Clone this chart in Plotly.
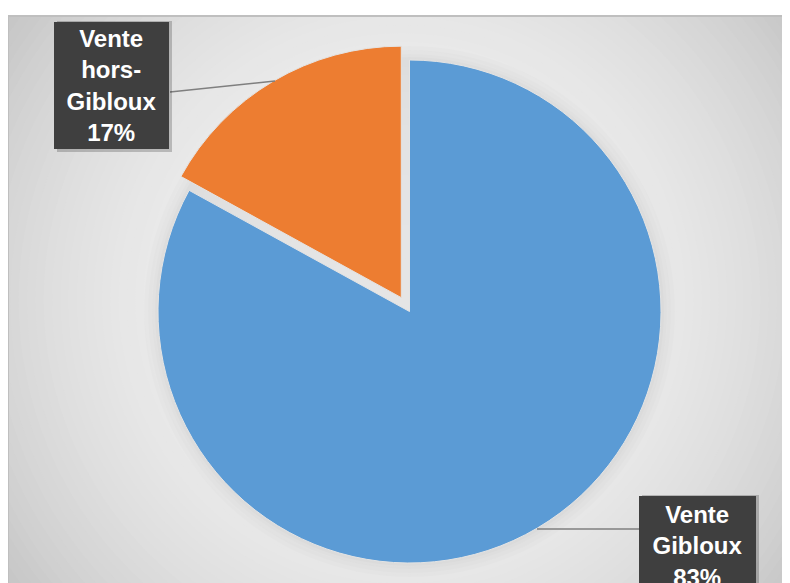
import plotly.graph_objects as go

# ---- data ----
labels = ["Vente Gibloux", "Vente hors-Gibloux"]
values = [83, 17]
colors = ["#5B9BD5", "#ED7D31"]

# screen-pixel geometry (page body has an 8px margin)
OFF = 8
W, H = 790, 583
FX0, FY0 = 8, 16            # frame top-left on screen
PW, PH = W, H - (FY0 - OFF)  # plot area size

def px(sx):
    return (sx - FX0) / PW

def py(sy):
    return 1 - (sy - FY0) / PH

fig = go.Figure()

shapes = []
# background radial gradient (concentric circles, clipped to plot area)
gcx, gcy = 402, 300
N = 60
for i in range(N):
    rad = 500 * (1 - i / N)
    t = min(rad / 478.0, 1.05) ** 2.5
    g = round(0xF2 - 42 * t)
    col = f"rgb({g},{g},{g})"
    shapes.append(dict(type="circle", xref="x", yref="y", layer="below",
                       x0=gcx - rad, x1=gcx + rad, y0=gcy - rad, y1=gcy + rad,
                       fillcolor=col, line=dict(width=0)))

# pie geometry
pcx, pcy, r = 409.5, 311.5, 251.5
pull = [0, 0.064]
half = r * (1 + max(pull))

# soft halo around pie (below the pie)
for k, a in [(14, 0.012), (10, 0.012), (6, 0.013), (3, 0.014)]:
    shapes.append(dict(type="circle", xref="x", yref="y", layer="below",
                       x0=pcx - r - k, x1=pcx + r + k, y0=pcy - r - k, y1=pcy + r + k,
                       fillcolor=f"rgba(0,0,0,{a})", line=dict(width=0)))

fig.add_trace(go.Pie(
    labels=labels, values=values, sort=False, direction="clockwise", rotation=0,
    pull=pull, textinfo="none", hoverinfo="label+percent",
    marker=dict(colors=colors, line=dict(color="#e4e4e4", width=1)),
    domain=dict(x=[px(pcx - half), px(pcx + half)],
                y=[py(pcy + half), py(pcy - half)]),
    showlegend=False))

# frame
shapes.append(dict(type="rect", xref="paper", yref="paper", layer="above",
                   x0=0, x1=1.05, y0=-0.05, y1=1, line=dict(color="#bfbfbf", width=2)))
# leader lines
shapes.append(dict(type="line", xref="x", yref="y", layer="above",
                   x0=170, y0=92, x1=275, y1=81, line=dict(color="#7f7f7f", width=1.5)))
shapes.append(dict(type="line", xref="x", yref="y", layer="above",
                   x0=537, y0=529, x1=639, y1=529, line=dict(color="#7f7f7f", width=1.5)))

# label boxes
pct = [round(v * 100 / sum(values)) for v in values]
texts = [f"{lab.replace(' ', '<br>').replace('-', '-<br>')}<br>{p}%" for lab, p in zip(labels, pct)]
boxes = [(639, 492, 117, 104), (54, 18, 115, 131)]  # per slice: left, top, w, h (screen px)
annotations = []
for t, (bx, by, bw, bh) in zip(texts, boxes):
    shapes.append(dict(type="rect", xref="x", yref="y", layer="above",
                       x0=bx + 3, x1=bx + bw + 3, y0=by + 3, y1=by + bh + 3,
                       fillcolor="rgba(0,0,0,0.2)", line=dict(width=0)))
    annotations.append(dict(
        xref="x", yref="y", x=bx + bw / 2, y=by + bh / 2 + 2, xanchor="center", yanchor="middle",
        text=f"<b>{t}</b>", showarrow=False, width=bw, height=bh - 4, borderpad=0,
        bgcolor="#3f3f3f", borderwidth=0, align="center", valign="middle",
        font=dict(family="Liberation Sans, Arial, sans-serif", size=24, color="white")))

fig.update_layout(
    width=W, height=H, margin=dict(l=0, r=0, t=FY0 - OFF, b=0),
    paper_bgcolor="white", plot_bgcolor="white",
    xaxis=dict(range=[FX0, FX0 + PW], visible=False, fixedrange=True),
    yaxis=dict(range=[FY0 + PH, FY0], visible=False, fixedrange=True),
    shapes=shapes, annotations=annotations, showlegend=False)

fig.write_html("out.html")
